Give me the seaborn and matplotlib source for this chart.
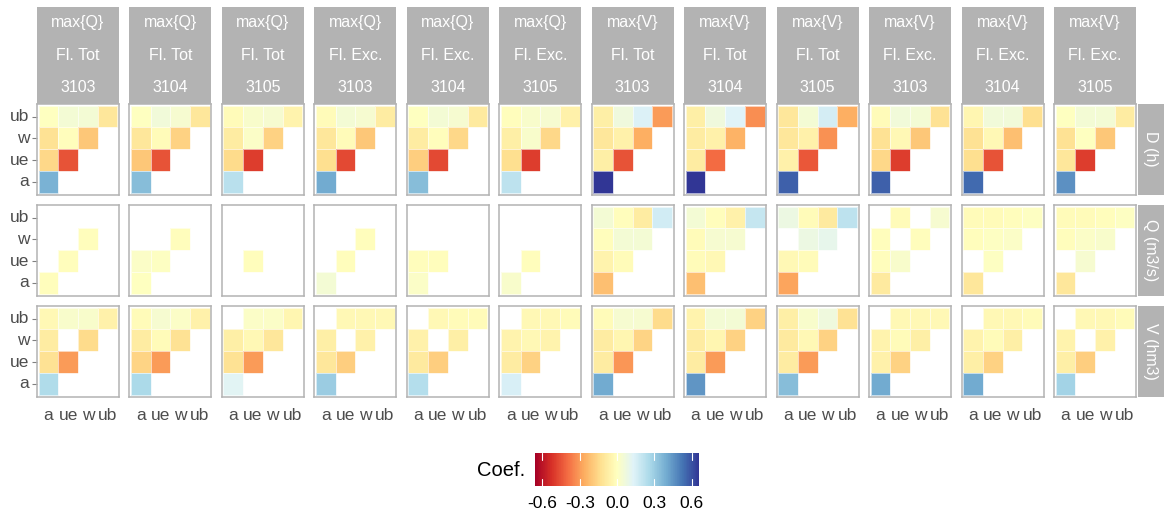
import numpy as np
import pandas as pd
import matplotlib
matplotlib.use("Agg")
import matplotlib.pyplot as plt
import seaborn as sns

N = np.nan
variables = ["a", "ue", "w", "ub"]          # x order (left to right)
rows_order = ["ub", "w", "ue", "a"]        # y order (top to bottom)
stat_labels = ["max{Q}"] * 6 + ["max{V}"] * 6
flood_labels = ["Fl. Tot"] * 3 + ["Fl. Exc."] * 3 + ["Fl. Tot"] * 3 + ["Fl. Exc."] * 3
station_labels = ["3103", "3104", "3105"] * 4
row_labels = ["D (h)", "Q (m3/s)", "V (hm3)"]

# each panel: rows ub, w, ue, a ; columns a, ue, w, ub
D_h = [
    [[0.00, 0.05, 0.05, -0.10], [-0.12, -0.01, -0.20, N], [-0.15, -0.45, N, N], [0.38, N, N, N]],
    [[0.00, 0.06, 0.04, -0.10], [-0.10, -0.02, -0.17, N], [-0.20, -0.45, N, N], [0.35, N, N, N]],
    [[-0.02, 0.03, 0.04, -0.05], [-0.08, 0.02, -0.17, N], [-0.14, -0.50, N, N], [0.23, N, N, N]],
    [[-0.02, 0.05, 0.04, -0.08], [-0.10, -0.02, -0.20, N], [-0.13, -0.47, N, N], [0.40, N, N, N]],
    [[0.00, 0.05, 0.04, -0.09], [-0.08, -0.01, -0.15, N], [-0.18, -0.47, N, N], [0.35, N, N, N]],
    [[-0.01, 0.03, 0.04, -0.06], [-0.07, 0.03, -0.15, N], [-0.13, -0.50, N, N], [0.22, N, N, N]],
    [[-0.07, 0.07, 0.14, -0.30], [-0.10, -0.06, -0.26, N], [-0.07, -0.45, N, N], [0.66, N, N, N]],
    [[-0.07, 0.07, 0.13, -0.33], [-0.08, -0.06, -0.25, N], [-0.08, -0.40, N, N], [0.66, N, N, N]],
    [[-0.10, 0.05, 0.16, -0.26], [-0.10, -0.06, -0.32, N], [-0.06, -0.44, N, N], [0.57, N, N, N]],
    [[-0.02, 0.06, 0.05, -0.12], [-0.12, -0.03, -0.20, N], [-0.15, -0.50, N, N], [0.57, N, N, N]],
    [[-0.04, 0.06, 0.06, -0.13], [-0.12, -0.03, -0.22, N], [-0.13, -0.45, N, N], [0.55, N, N, N]],
    [[0.00, 0.05, 0.05, -0.08], [-0.12, 0.00, -0.20, N], [-0.10, -0.50, N, N], [0.46, N, N, N]],
]

Q_m3s = [
    [[N, N, N, N], [N, N, -0.01, N], [N, -0.01, N, N], [-0.01, N, N, N]],
    [[N, N, N, N], [N, N, -0.01, N], [0.02, 0.01, N, N], [0.00, N, N, N]],
    [[N, N, N, N], [N, N, N, N], [N, -0.01, N, N], [N, N, N, N]],
    [[N, N, N, N], [N, N, -0.01, N], [N, -0.01, N, N], [0.05, N, N, N]],
    [[N, N, N, N], [N, N, N, N], [-0.01, -0.01, N, N], [0.02, N, N, N]],
    [[N, N, N, N], [N, N, N, N], [N, -0.01, N, N], [0.03, N, N, N]],
    [[0.05, -0.01, -0.08, 0.17], [-0.01, 0.05, 0.05, N], [-0.05, -0.02, N, N], [-0.22, N, N, N]],
    [[0.05, -0.01, -0.06, 0.20], [-0.02, 0.04, 0.04, N], [-0.02, -0.03, N, N], [-0.22, N, N, N]],
    [[0.08, -0.02, -0.09, 0.22], [N, 0.08, 0.10, N], [-0.03, -0.02, N, N], [-0.28, N, N, N]],
    [[N, -0.02, N, 0.04], [-0.01, N, -0.01, N], [-0.01, 0.03, N, N], [-0.09, N, N, N]],
    [[-0.02, -0.02, -0.01, 0.01], [-0.01, 0.01, 0.02, N], [N, 0.01, N, N], [-0.10, N, N, N]],
    [[-0.02, -0.02, -0.01, 0.01], [-0.01, 0.02, 0.03, N], [N, 0.04, N, N], [-0.10, N, N, N]],
]

V_hm3 = [
    [[-0.03, 0.03, 0.03, -0.06], [-0.08, N, -0.14, N], [-0.12, -0.30, N, N], [0.25, N, N, N]],
    [[-0.02, 0.04, 0.02, -0.06], [-0.08, -0.02, -0.12, N], [-0.16, -0.30, N, N], [0.26, N, N, N]],
    [[N, 0.02, 0.02, -0.04], [-0.07, -0.03, -0.10, N], [-0.12, -0.30, N, N], [0.12, N, N, N]],
    [[N, -0.03, -0.03, -0.03], [-0.07, N, -0.06, N], [-0.10, -0.18, N, N], [0.30, N, N, N]],
    [[N, -0.03, -0.02, -0.02], [-0.06, N, -0.07, N], [-0.09, -0.18, N, N], [0.24, N, N, N]],
    [[N, -0.03, -0.03, -0.02], [-0.05, -0.03, -0.05, N], [-0.08, -0.17, N, N], [0.15, N, N, N]],
    [[-0.02, 0.04, 0.04, -0.14], [-0.08, -0.04, -0.16, N], [-0.08, -0.31, N, N], [0.40, N, N, N]],
    [[-0.05, 0.05, 0.05, -0.17], [-0.08, -0.04, -0.17, N], [-0.08, -0.30, N, N], [0.45, N, N, N]],
    [[-0.07, 0.03, 0.07, -0.12], [-0.09, -0.03, -0.17, N], [-0.08, -0.30, N, N], [0.35, N, N, N]],
    [[N, -0.03, -0.03, -0.03], [-0.05, -0.02, -0.07, N], [-0.06, -0.17, N, N], [0.40, N, N, N]],
    [[N, -0.03, -0.03, -0.02], [-0.05, -0.02, -0.07, N], [-0.07, -0.17, N, N], [0.40, N, N, N]],
    [[N, -0.03, -0.03, -0.02], [-0.05, N, -0.06, N], [-0.07, -0.18, N, N], [0.28, N, N, N]],
]

all_rows = [D_h, Q_m3s, V_hm3]

sns.set_theme(style="white")
plt.rcParams["font.family"] = ["Liberation Sans", "DejaVu Sans"]

W, H = 1164, 515
fig = plt.figure(figsize=(W / 100, H / 100), dpi=100)

VMIN, VMAX = -0.66, 0.66
cmap = "RdYlBu"
strip_gray = "#b3b3b3"
tick_col = "#4d4d4d"

col_left0 = 37.0
col_pitch = 92.45
pan_w = 82.0
row_tops = [104.0, 205.0, 306.0]
pan_h = 90.5

def fx(x):
    return x / W

def fy(y):
    return 1 - y / H

for r, panels in enumerate(all_rows):
    for c, vals in enumerate(panels):
        left = col_left0 + c * col_pitch
        top = row_tops[r]
        ax = fig.add_axes([fx(left), fy(top + pan_h), pan_w / W, pan_h / H])
        df = pd.DataFrame(vals, index=rows_order, columns=variables)
        sns.heatmap(df, ax=ax, cmap=cmap, vmin=VMIN, vmax=VMAX, cbar=False,
                    linewidths=0.4, linecolor=(1, 1, 1, 0.6), square=False)
        ax.set_xlim(-0.08, 4.08)
        ax.set_ylim(4.08, -0.08)
        for sp in ax.spines.values():
            sp.set_visible(True)
            sp.set_color("#b3b3b3")
            sp.set_linewidth(1.1)
        ax.set_xlabel("")
        ax.set_ylabel("")
        if c == 0:
            ax.set_yticks(np.arange(4) + 0.5)
            ax.set_yticklabels(rows_order, rotation=0, fontsize=12.5, color=tick_col)
            ax.tick_params(axis="y", length=3.5, width=0.8, color="#808080", pad=2, left=True)
        else:
            ax.set_yticks([])
        if r == 2:
            ax.set_xticks(np.arange(4) + 0.5)
            ax.set_xticklabels(variables, rotation=0, fontsize=12.5, color=tick_col)
            ax.tick_params(axis="x", length=0, pad=8)
        else:
            ax.set_xticks([])

# top strips
for c in range(12):
    left = col_left0 + c * col_pitch
    sax = fig.add_axes([fx(left), fy(103.5), pan_w / W, (103.5 - 7) / H])
    sax.set_facecolor(strip_gray)
    sax.set_xticks([]); sax.set_yticks([])
    for sp in sax.spines.values():
        sp.set_visible(False)
    for txt, yy in [(stat_labels[c], 0.835), (flood_labels[c], 0.5), (station_labels[c], 0.165)]:
        sax.text(0.5, yy, txt, ha="center", va="center", color="white", fontsize=11.5,
                 transform=sax.transAxes)

# right strips
for r in range(3):
    top = row_tops[r]
    sax = fig.add_axes([fx(1137.5), fy(top + pan_h), (1164 - 1137.5) / W, pan_h / H])
    sax.set_facecolor(strip_gray)
    sax.set_xticks([]); sax.set_yticks([])
    for sp in sax.spines.values():
        sp.set_visible(False)
    sax.text(0.5, 0.5, row_labels[r], ha="center", va="center", color="white", fontsize=11.5,
             rotation=270, transform=sax.transAxes)

# colorbar
cax = fig.add_axes([fx(535), fy(486), 164 / W, 33 / H])
sm = plt.cm.ScalarMappable(cmap=cmap, norm=plt.Normalize(VMIN, VMAX))
cb = fig.colorbar(sm, cax=cax, orientation="horizontal")
cb.outline.set_visible(False)
cb_ticks = [-0.6, -0.3, 0.0, 0.3, 0.6]
cb.set_ticks(cb_ticks)
cb.set_ticklabels([f"{t:.1f}" for t in cb_ticks])
cax.tick_params(axis="x", length=0, labelsize=12.5, pad=7, colors="black")
for t in cb_ticks:
    cax.axvline(t, ymin=0, ymax=0.2, color="white", lw=0.8)
    cax.axvline(t, ymin=0.8, ymax=1.0, color="white", lw=0.8)
fig.text(fx(525), fy(470), "Coef.", ha="right", va="center", fontsize=14.5, color="black")

fig.savefig("out.png", dpi=100)
